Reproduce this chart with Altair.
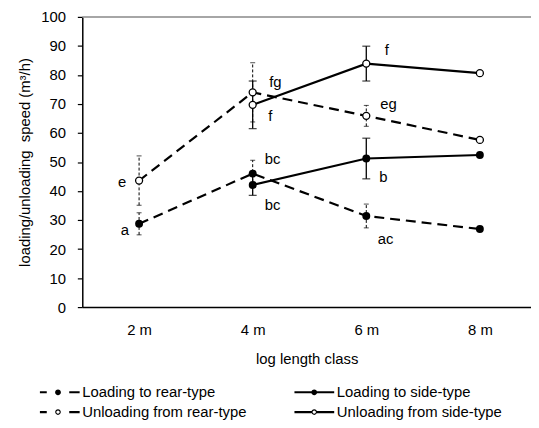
import altair as alt
import pandas as pd

# ---- data ----
classes = [2, 4, 6, 8]
side_classes = [4, 6, 8]

loading_rear = [28.7, 46.0, 31.4, 26.9]
loading_rear_err = [3.8, 4.6, 4.1, None]
unloading_rear = [43.6, 74.0, 65.9, 57.6]
unloading_rear_err = [8.5, 10.2, 3.6, None]
loading_side = [42.1, 51.2, 52.4]
loading_side_err = [3.6, 7.0, None]
unloading_side = [69.7, 83.9, 80.6]
unloading_side_err = [8.2, 6.0, None]

series_names = [
    "Loading to rear-type",
    "Loading to side-type",
    "Unloading from rear-type",
    "Unloading from side-type",
]

label_text = ["e", "a", "fg", "f", "bc", "bc", "f", "eg", "b", "ac"]
label_x = [1.70, 1.75, 4.40, 4.31, 4.35, 4.35, 6.36, 6.39, 6.30, 6.34]
label_y = [43.0, 26.5, 77.6, 65.7, 50.9, 35.2, 88.7, 70.1, 44.7, 23.3]

# ---- build tables ----
rows = []
def add(name, xs, ys, errs, body, filled):
    for x, y, e in zip(xs, ys, errs):
        rows.append({
            "series": name, "x": x, "y": y,
            "lo": None if e is None else y - e,
            "hi": None if e is None else y + e,
            "body": body, "filled": filled,
        })

add(series_names[0], classes, loading_rear, loading_rear_err, "rear", True)
add(series_names[1], side_classes, loading_side, loading_side_err, "side", True)
add(series_names[2], classes, unloading_rear, unloading_rear_err, "rear", False)
add(series_names[3], side_classes, unloading_side, unloading_side_err, "side", False)
df = pd.DataFrame(rows)
labels_df = pd.DataFrame({"text": label_text, "x": label_x, "y": label_y})

FONT = "Liberation Sans"

xscale = alt.Scale(domain=[1, 8.9], nice=False, zero=False)
yscale = alt.Scale(domain=[0, 100], nice=False)
xaxis = alt.Axis(values=classes, labelExpr="datum.value + ' m'", title="log length class",
                 ticks=False, tickSize=0, grid=False, labelPadding=16, titlePadding=14,
                 domainColor="black", domainWidth=1.5)
yaxis = alt.Axis(values=list(range(0, 101, 10)), title="loading/unloading\u00a0 speed (m³/h)",
                 tickSize=5, grid=False, labelPadding=12, titlePadding=8,
                 domainColor="black", domainWidth=1.5, tickColor="black", tickWidth=1.2)

X = alt.X("x:Q", scale=xscale, axis=xaxis)
Y = alt.Y("y:Q", scale=yscale, axis=yaxis)

base = alt.Chart(df)

top_rule = alt.Chart(pd.DataFrame({"y": [100]})).mark_rule(
    color="#888888", strokeWidth=1.5).encode(y=alt.Y("y:Q", scale=yscale, axis=yaxis))

err_df = base.transform_filter("datum.lo != null")

rear_err = err_df.transform_filter("datum.body == 'rear'").mark_rule(
    color="black", strokeWidth=1, strokeDash=[3, 2]).encode(
    x=X, y=alt.Y("lo:Q", scale=yscale, axis=yaxis), y2="hi:Q")
side_err = err_df.transform_filter("datum.body == 'side'").mark_rule(
    color="black", strokeWidth=1.3).encode(
    x=X, y=alt.Y("lo:Q", scale=yscale, axis=yaxis), y2="hi:Q")

def caps(body, size, width):
    sub = err_df.transform_filter(f"datum.body == '{body}'")
    lo = sub.mark_tick(orient="horizontal", color="black", size=size, thickness=width).encode(
        x=X, y=alt.Y("lo:Q", scale=yscale, axis=yaxis))
    hi = sub.mark_tick(orient="horizontal", color="black", size=size, thickness=width).encode(
        x=X, y=alt.Y("hi:Q", scale=yscale, axis=yaxis))
    return lo + hi

rear_line = base.transform_filter("datum.body == 'rear'").mark_line(
    color="black", strokeWidth=2.2, strokeDash=[10, 6]).encode(x=X, y=Y, detail="series:N")
side_line = base.transform_filter("datum.body == 'side'").mark_line(
    color="black", strokeWidth=2.2).encode(x=X, y=Y, detail="series:N")

filled_pts = base.transform_filter("datum.filled").mark_point(
    shape="circle", filled=True, color="black", size=64, opacity=1).encode(x=X, y=Y)
open_pts = base.transform_filter("!datum.filled").mark_point(
    shape="circle", filled=True, fill="white", stroke="black", strokeWidth=1.3,
    size=50, opacity=1).encode(x=X, y=Y)

labels = alt.Chart(labels_df).mark_text(
    font=FONT, fontSize=15, color="black", align="center", baseline="middle").encode(
    x=alt.X("x:Q", scale=xscale, axis=xaxis), y=alt.Y("y:Q", scale=yscale, axis=yaxis), text="text:N")

# legend symbols: fill-only unit-square paths (1 unit = 21 px)
def rect(x0, x1, h=0.05):
    return f"M{x0},{-h}L{x1},{-h}L{x1},{h}L{x0},{h}Z"

def disc(cx, r):
    return f"M{cx + r},0A{r},{r} 0 1,1 {cx - r},0A{r},{r} 0 1,1 {cx + r},0Z"

def ring(cx, r_out, r_in):
    return (disc(cx, r_out) +
            f"M{cx + r_in},0A{r_in},{r_in} 0 1,0 {cx - r_in},0A{r_in},{r_in} 0 1,0 {cx + r_in},0Z")

dash_dot_filled = rect(-1, -0.66) + rect(0.42, 0.92) + disc(-0.12, 0.14)
solid_dot_filled = rect(-1, 0) + rect(0, 0.92) + disc(-0.04, 0.14)
dash_dot_open = rect(-1, -0.66) + rect(0.42, 0.92) + ring(-0.12, 0.135, 0.08)
solid_dot_open = rect(-1, -0.17) + rect(0.09, 0.92) + ring(-0.04, 0.135, 0.08)
paths = [dash_dot_filled, solid_dot_filled, dash_dot_open, solid_dot_open]

leg = alt.Legend(title=None, orient="none", legendX=-43, legendY=371, columns=2,
                 direction="horizontal",
                 columnPadding=48, rowPadding=4, symbolSize=1764, symbolOpacity=1,
                 symbolFillColor="black", symbolStrokeWidth=0, labelFontSize=15,
                 labelFont=FONT, labelColor="black", labelOffset=1, clipHeight=16,
                 padding=0, labelLimit=400)

legend_layer = base.mark_point(filled=True, size=1764, opacity=0, color="black").encode(
    x=X, y=Y,
    shape=alt.Shape("series:N", scale=alt.Scale(domain=series_names, range=paths), legend=leg),
)

chart = alt.layer(
    top_rule, rear_err, side_err, caps("rear", 5, 1), caps("side", 8, 1.3),
    rear_line, side_line, open_pts, filled_pts, labels, legend_layer,
).properties(
    width=453, height=293,
    autosize=alt.AutoSizeParams(type="none"),
    padding={"left": 75, "top": 7, "right": 0, "bottom": 112},
).configure_axis(
    labelFont=FONT, titleFont=FONT, labelFontSize=15, titleFontSize=15,
    labelColor="black", titleColor="black", titleFontWeight="normal",
).configure_view(stroke=None)

chart.save("out.html", embed_options={"renderer": "svg", "actions": False})
